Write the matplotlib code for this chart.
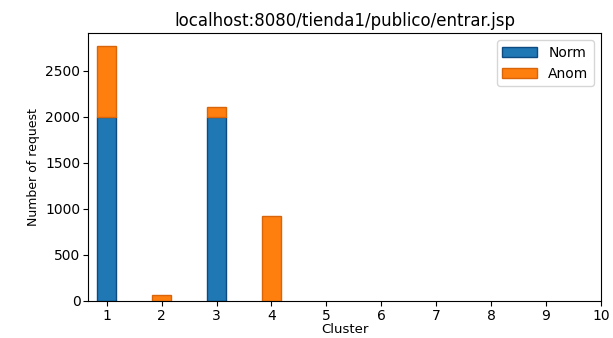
import matplotlib
matplotlib.use("Agg")
import matplotlib.pyplot as plt
import numpy as np

clusters = [1, 2, 3, 4]
norm = [2000, 0, 2000, 0]
anom = [770, 65, 105, 920]
ticks = list(range(1, 11))

fig = plt.figure(figsize=(6.13, 3.38), dpi=100)
ax = fig.add_axes([0.1436, 0.1095, 0.8367, 0.7925])

w = 0.35
ax.bar(clusters, norm, w, color='#1f77b4', edgecolor='#0d4a80', linewidth=1, label='Norm')
ax.bar(clusters, anom, w, bottom=norm, color='#ff7f0e', edgecolor='#d9650a', linewidth=1, label='Anom')

ax.set_xticks(ticks)
ax.set_xlim(0.66, 10)
ax.set_ylim(0, 2910)
ax.tick_params(labelsize=10, pad=2)
ax.set_xlabel("Cluster", fontsize=9.5, labelpad=0)
ax.set_ylabel("Number of request", fontsize=9)
ax.set_title("localhost:8080/tienda1/publico/entrar.jsp", fontsize=12, pad=5)
ax.legend(loc='upper right', fontsize=10, handlelength=2.5)

fig.savefig("out.png")
